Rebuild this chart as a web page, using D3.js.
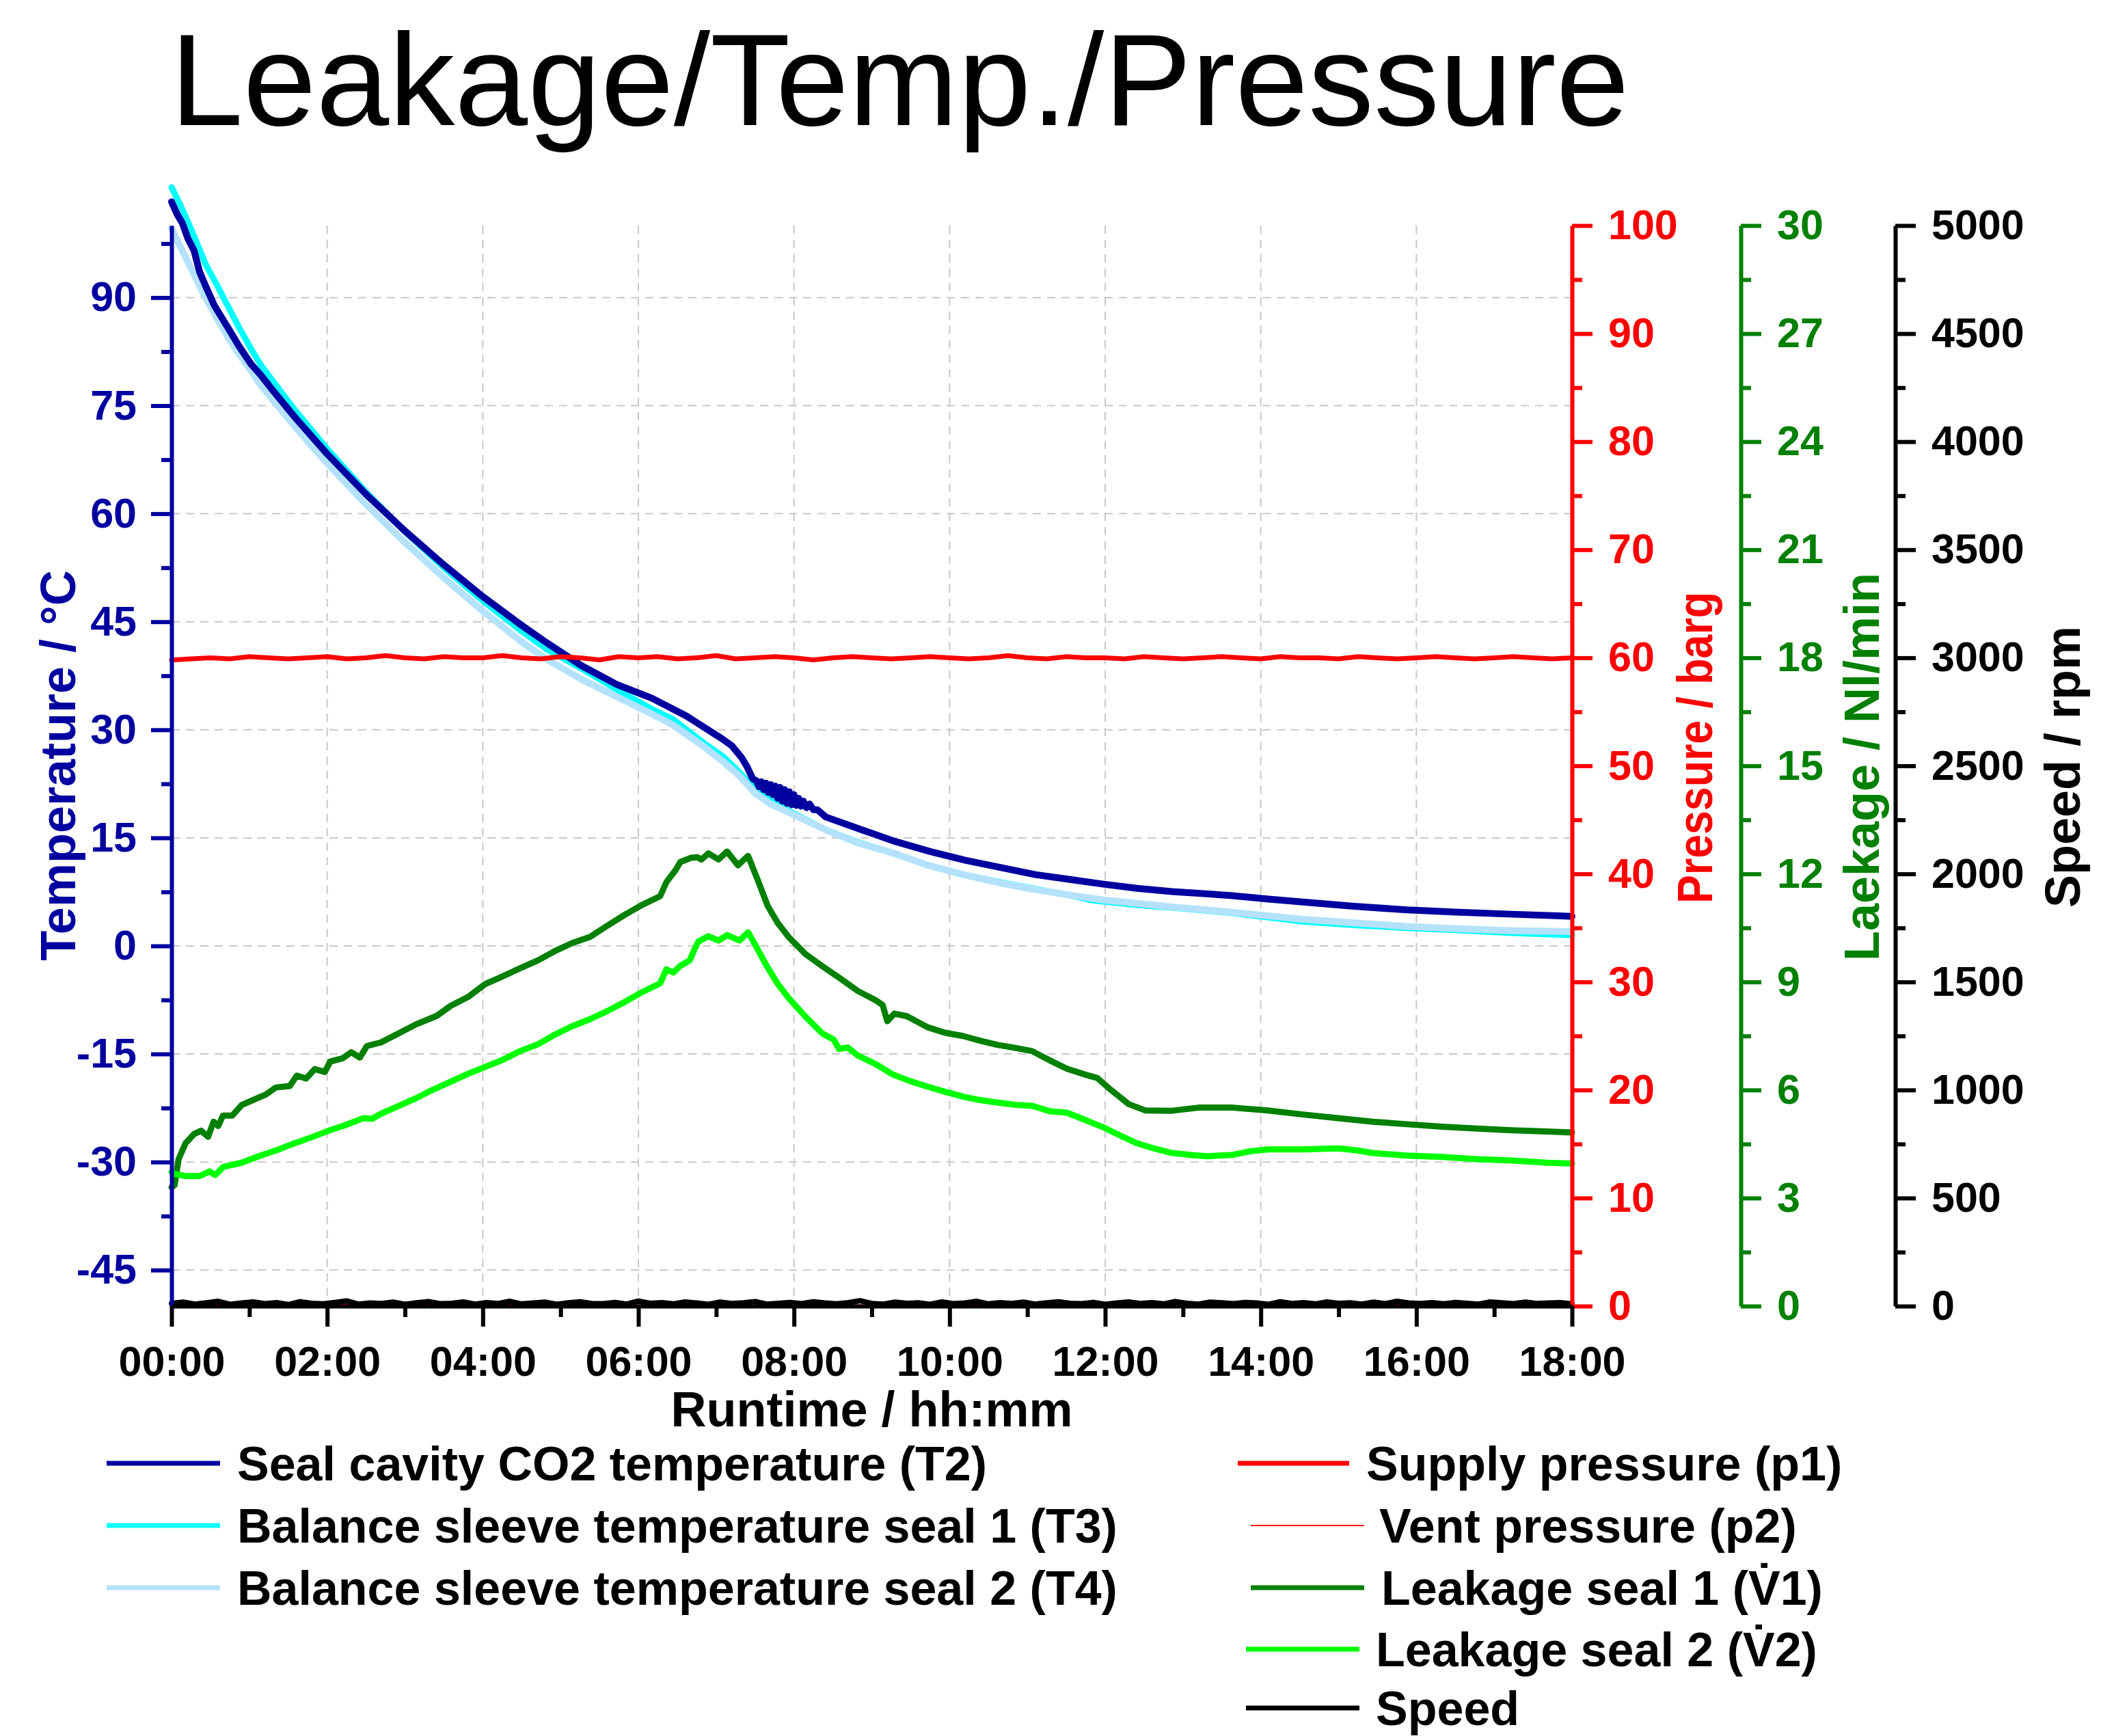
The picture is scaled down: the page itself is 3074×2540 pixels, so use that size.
<!DOCTYPE html>
<html>
<head>
<meta charset="utf-8">
<script src="https://cdn.jsdelivr.net/npm/d3@7"></script>
<style>
  html, body { margin: 0; padding: 0; background: #fff; }
  svg { display: block; }
</style>
</head>
<body>
<svg id="chart" width="3074" height="2540"></svg>
<script>
// ---------- data (runtime in hours) ----------
const t2Time = [0,0.07,0.14,0.21,0.29,0.36,0.43,0.55,0.72,0.87,1.02,1.15,1.31,1.6,2.0,2.5,3.0,3.5,4.0,4.5,4.82,5.27,5.72,6.17,6.62,7.07,7.2,7.33,7.4,7.47,
  7.52,7.55,7.58,7.61,7.64,7.67,7.70,7.73,7.76,7.79,7.82,7.85,7.88,7.91,7.94,7.97,8.00,8.03,8.06,8.09,8.12,8.16,8.20,8.25,8.30,
  8.41,8.85,9.3,9.75,10.2,10.65,11.1,11.5,11.96,12.41,12.86,13.2,13.61,14.1,14.54,15.2,15.88,16.5,17.23,18];
const t2Temp = [103.3,101.6,100.3,98.2,96.5,93.6,91.8,88.9,85.9,83.2,80.8,79.2,77.0,73.2,68.3,62.7,57.6,52.9,48.5,44.5,42.1,38.9,36.3,34.4,31.9,28.8,27.8,26.1,24.8,23.2,
  22.9,22.1,22.8,21.7,22.6,21.3,22.4,21.0,22.2,20.5,22.0,20.1,21.7,19.8,21.4,19.6,21.0,19.5,20.5,19.4,20.1,19.2,19.7,18.9,18.9,
  17.9,16.2,14.5,13.1,11.9,10.9,9.9,9.3,8.6,8.0,7.55,7.3,7.0,6.5,6.1,5.5,5.0,4.7,4.4,4.1];

const t3Time = [0,0.07,0.14,0.29,0.43,0.58,0.72,0.87,1.02,1.15,1.31,1.6,2.0,2.5,3.0,3.5,4.0,4.5,4.82,5.27,5.72,6.17,6.44,6.85,7.1,7.29,7.4,7.51,7.7,7.96,8.41,8.82,9.3,9.72,10.17,10.62,11.06,11.51,11.85,12.41,12.86,13.2,13.61,14.54,15.2,15.88,16.5,17.23,18];
const t3Temp = [105.3,103.8,102.2,98.5,94.8,91.8,88.9,85.8,82.9,80.6,78.3,74.2,69.0,63.0,57.5,52.5,47.9,43.7,41.2,38.5,35.6,32.9,31.5,28.1,26.2,24.2,22.9,21.8,20.2,18.6,16.1,14.4,12.8,11.2,9.9,8.9,8.0,7.1,6.3,5.7,5.3,5.0,4.6,3.4,2.9,2.5,2.2,1.8,1.5];

const t4Time = [0,0.07,0.14,0.29,0.43,0.58,0.72,0.87,1.02,1.15,1.31,1.6,2.0,2.5,3.0,3.5,4.0,4.5,4.82,5.27,5.72,6.17,6.44,6.85,7.1,7.29,7.4,7.51,7.7,7.96,8.41,8.82,9.3,9.72,10.17,10.62,11.06,11.51,11.96,12.41,12.86,13.2,13.61,14.54,15.2,15.88,16.5,17.23,18];
const t4Temp = [99.6,98.0,96.5,93.2,90.1,87.2,84.6,82.1,79.9,77.8,75.7,71.9,67.0,61.3,56.0,51.1,46.5,42.2,39.8,37.0,34.6,32.2,30.7,27.6,25.5,23.7,22.4,21.1,19.7,18.4,16.1,14.3,12.8,11.2,9.9,8.8,7.9,7.1,6.4,5.9,5.4,5.1,4.7,3.7,3.2,2.7,2.4,2.1,2.0];

const v1Time = [0,0.04,0.09,0.18,0.29,0.38,0.47,0.54,0.6,0.66,0.78,0.9,1.08,1.21,1.34,1.52,1.61,1.73,1.84,1.97,2.04,2.2,2.31,2.42,2.51,2.69,2.91,3.14,3.41,3.59,3.81,4.03,4.26,4.48,4.71,4.93,5.15,5.38,5.6,5.83,6.05,6.28,6.36,6.48,6.54,6.68,6.76,6.81,6.9,7.03,7.14,7.28,7.41,7.54,7.66,7.79,7.93,8.15,8.37,8.6,8.82,9.05,9.14,9.2,9.29,9.45,9.72,9.94,10.17,10.39,10.62,10.84,11.06,11.29,11.51,11.74,11.9,12.07,12.3,12.52,12.84,13.2,13.64,14.09,14.54,14.99,15.44,15.88,16.33,16.78,17.23,17.68,18];
const v1Flow = [3.3,3.36,4.08,4.52,4.78,4.87,4.7,5.12,5.0,5.29,5.29,5.58,5.75,5.87,6.07,6.11,6.4,6.32,6.58,6.5,6.79,6.88,7.05,6.9,7.22,7.32,7.56,7.82,8.06,8.34,8.58,8.94,9.16,9.38,9.6,9.86,10.08,10.25,10.56,10.87,11.14,11.38,11.77,12.11,12.33,12.45,12.46,12.4,12.57,12.4,12.62,12.24,12.5,11.8,11.12,10.64,10.25,9.77,9.43,9.09,8.75,8.49,8.36,7.91,8.12,8.05,7.74,7.59,7.5,7.37,7.25,7.17,7.08,6.82,6.59,6.43,6.33,6.01,5.61,5.43,5.42,5.51,5.51,5.43,5.32,5.22,5.12,5.05,4.98,4.93,4.88,4.85,4.82];

const v2Time = [0,0.04,0.18,0.36,0.49,0.56,0.67,0.9,1.12,1.34,1.57,1.79,2.02,2.24,2.47,2.58,2.69,2.91,3.14,3.36,3.59,3.81,4.03,4.26,4.48,4.71,4.93,5.15,5.38,5.6,5.83,6.05,6.28,6.36,6.45,6.54,6.66,6.72,6.77,6.9,7.03,7.14,7.3,7.41,7.52,7.64,7.79,7.93,8.15,8.37,8.51,8.58,8.69,8.82,9.05,9.27,9.5,9.72,9.94,10.17,10.39,10.62,10.84,11.06,11.29,11.51,11.74,11.96,12.19,12.41,12.64,12.86,13.09,13.31,13.64,13.87,14.09,14.54,14.99,15.21,15.44,15.88,16.33,16.78,17.23,17.68,18];
const v2Flow = [3.72,3.67,3.61,3.61,3.74,3.64,3.87,3.98,4.16,4.32,4.51,4.68,4.87,5.03,5.22,5.2,5.34,5.55,5.77,6.01,6.23,6.45,6.64,6.84,7.08,7.27,7.54,7.77,7.97,8.19,8.45,8.72,8.96,9.35,9.26,9.45,9.6,9.9,10.12,10.27,10.15,10.3,10.15,10.38,9.96,9.48,8.95,8.56,8.03,7.56,7.4,7.14,7.18,6.96,6.72,6.43,6.24,6.09,5.95,5.82,5.72,5.65,5.59,5.56,5.41,5.37,5.17,4.98,4.74,4.52,4.37,4.25,4.2,4.16,4.2,4.3,4.35,4.35,4.38,4.33,4.25,4.18,4.14,4.08,4.04,3.98,3.96];

// supply pressure p1, sampled every 15 min
const p1Barg = [59.8,59.9,60.0,59.9,60.1,60.0,59.9,60.0,60.1,59.9,60.0,60.2,60.0,59.9,60.1,60.0,60.0,60.2,60.0,59.9,60.1,60.0,59.8,60.1,60.0,60.1,59.9,60.0,60.2,59.9,60.0,60.1,60.0,59.8,60.0,60.1,60.0,59.9,60.0,60.1,60.0,59.9,60.0,60.2,60.0,59.9,60.1,60.0,60.0,59.9,60.1,60.0,59.9,60.0,60.1,60.0,59.9,60.1,60.0,60.0,59.9,60.1,60.0,59.9,60.0,60.1,60.0,59.9,60.0,60.1,60.0,59.9,60.0];
// vent pressure p2, sampled every 30 min
const p2Barg = [0.1,0.2,0.1,0.1,0.2,0.1,0.2,0.1,0.1,0.2,0.1,0.2,0.1,0.1,0.2,0.1,0.2,0.1,0.1,0.2,0.1,0.2,0.1,0.1,0.2,0.1,0.2,0.1,0.1,0.2,0.1,0.2,0.1,0.1,0.2,0.1,0.1];
// shaft speed, sampled every 9 min
const speedRpm = [12,18,9,15,22,8,14,19,11,16,7,20,13,10,17,24,9,14,12,18,8,15,21,11,13,19,9,16,12,22,10,14,18,8,15,20,12,11,17,9,23,13,16,10,19,14,8,18,12,15,21,9,13,17,11,20,14,10,16,25,12,9,18,13,15,8,19,11,14,22,10,16,12,18,9,15,20,13,11,17,8,14,19,12,16,10,21,13,9,18,15,11,17,14,8,20,12,16,10,19,13,15,9,18,11,22,14,12,16,10,17,13,9,19,15,11,18,12,14,16,10];

// ---------- axis ticks ----------
const timeTicks = [0,2,4,6,8,10,12,14,16,18];
const timeLabels = ["00:00","02:00","04:00","06:00","08:00","10:00","12:00","14:00","16:00","18:00"];
const timeMinor = [1,3,5,7,9,11,13,15,17];
const tempTicks = [-45,-30,-15,0,15,30,45,60,75,90];
const tempMinor = [-37.5,-22.5,-7.5,7.5,22.5,37.5,52.5,67.5,82.5,97.5];
const presTicks = [0,10,20,30,40,50,60,70,80,90,100];
const presMinor = [5,15,25,35,45,55,65,75,85,95];
const leakTicks = [0,3,6,9,12,15,18,21,24,27,30];
const leakMinor = [1.5,4.5,7.5,10.5,13.5,16.5,19.5,22.5,25.5,28.5];
const speedTicks = [0,500,1000,1500,2000,2500,3000,3500,4000,4500,5000];
const speedMinor = [250,750,1250,1750,2250,2750,3250,3750,4250,4750];

// ---------- layout ----------
const FONT = "'Liberation Sans', Arial, sans-serif";
const plotL = 251, plotR = 2300, plotT = 330, plotB = 1911;
const navy = "#0000A0", green = "#008000";

const svg = d3.select("#chart");
svg.append("rect").attr("width", 3074).attr("height", 2540).attr("fill", "#fff");

const x = d3.scaleLinear().domain([0, 18]).range([plotL, plotR]);
const yTemp = d3.scaleLinear().domain([-50, 100]).range([plotB, plotT]);
const yPres = d3.scaleLinear().domain([0, 100]).range([plotB, plotT]);
const yLeak = d3.scaleLinear().domain([0, 30]).range([plotB, plotT]);
const ySpeed = d3.scaleLinear().domain([0, 5000]).range([plotB, plotT]);

// title
svg.append("text").attr("x", 249).attr("y", 183)
  .attr("font-family", FONT).attr("font-size", 192).attr("fill", "#000")
  .text("Leakage/Temp./Pressure");

// grid
const grid = svg.append("g").attr("stroke", "#c8c8c8").attr("stroke-width", 2).attr("stroke-dasharray", "12,9");
grid.selectAll(".gh").data(tempTicks).join("line")
  .attr("x1", plotL).attr("x2", plotR).attr("y1", d => yTemp(d)).attr("y2", d => yTemp(d));
grid.selectAll(".gv").data(timeTicks.slice(1, -1)).join("line")
  .attr("y1", plotT).attr("y2", plotB).attr("x1", d => x(d)).attr("x2", d => x(d));

// series
function series(times, values, yScale, color, width) {
  const pts = times.map((t, i) => [t, values[i]]);
  svg.append("path").datum(pts)
    .attr("fill", "none").attr("stroke", color).attr("stroke-width", width)
    .attr("stroke-linejoin", "round").attr("stroke-linecap", "round")
    .attr("d", d3.line().x(d => x(d[0])).y(d => yScale(d[1])));
}
const uniformTimes = arr => arr.map((d, i) => i * 18 / (arr.length - 1));

series(t3Time, t3Temp, yTemp, "#00FFFF", 9);
series(t4Time, t4Temp, yTemp, "#B4E2FC", 10);
series(t2Time, t2Temp, yTemp, navy, 10);
series(uniformTimes(p1Barg), p1Barg, yPres, "#FF0000", 7);
series(v1Time, v1Flow, yLeak, green, 9);
series(v2Time, v2Flow, yLeak, "#00FF00", 9);
series(uniformTimes(p2Barg), p2Barg, yPres, "#FF0000", 2);
series(uniformTimes(speedRpm), speedRpm, ySpeed, "#000", 8);

// axes
function styleAxis(g, color) {
  g.selectAll("path.domain").attr("stroke", color).attr("stroke-width", 6);
  g.selectAll(".tick line").attr("stroke", color).attr("stroke-width", 6);
  g.selectAll(".tick text").attr("fill", color)
    .attr("font-family", FONT).attr("font-size", 61).attr("font-weight", "bold");
}
function vAxis(pos, gen, scale, major, minor, color, fmt) {
  const gMinor = svg.append("g").attr("transform", `translate(${pos},0)`)
    .call(gen(scale).tickValues(minor).tickSize(15).tickSizeOuter(0).tickFormat(""));
  gMinor.select("path.domain").remove();
  styleAxis(gMinor, color);
  const g = svg.append("g").attr("transform", `translate(${pos},0)`)
    .call(gen(scale).tickValues(major).tickSize(30).tickSizeOuter(0)
      .tickPadding(gen === d3.axisLeft ? 21 : 23).tickFormat(fmt));
  styleAxis(g, color);
}
vAxis(plotL, d3.axisLeft, yTemp, tempTicks, tempMinor, navy, d => String(d));
vAxis(plotR, d3.axisRight, yPres, presTicks, presMinor, "#FF0000", d => String(d));
vAxis(2547, d3.axisRight, yLeak, leakTicks, leakMinor, green, d => String(d));
vAxis(2773, d3.axisRight, ySpeed, speedTicks, speedMinor, "#000", d => String(d));

const gxMinor = svg.append("g").attr("transform", `translate(0,${plotB})`)
  .call(d3.axisBottom(x).tickValues(timeMinor).tickSize(16).tickSizeOuter(0).tickFormat(""));
gxMinor.select("path.domain").remove();
styleAxis(gxMinor, "#000");
const gx = svg.append("g").attr("transform", `translate(0,${plotB})`)
  .call(d3.axisBottom(x).tickValues(timeTicks).tickSize(30).tickSizeOuter(0).tickPadding(29)
    .tickFormat((d, i) => timeLabels[i]));
styleAxis(gx, "#000");

// axis titles (squeeze < 1 narrows the text along its reading direction)
function title(txt, px, py, color, rotate, squeeze = 1) {
  svg.append("text")
    .attr("transform", `translate(${px},${py})` + (rotate ? " rotate(-90)" : "") + ` scale(${squeeze},1)`)
    .attr("text-anchor", "middle").attr("fill", color)
    .attr("font-family", FONT).attr("font-size", 72).attr("font-weight", "bold")
    .text(txt);
}
title("Runtime / hh:mm", (plotL + plotR) / 2, 2087, "#000", false);
title("Temperature / °C", 110, 1120, navy, true);
title("Pressure / barg", 2505, 1094, "#FF0000", true, 0.87);
title("Laekage / Nl/min", 2749, 1122, green, true);
title("Speed / rpm", 3043, 1122, "#000", true);

// legend
const legendItems = [
  { label: "Seal cavity CO2 temperature (T2)", color: navy, w: 7, x1: 156, x2: 322, tx: 347, y: 2141 },
  { label: "Balance sleeve temperature seal 1 (T3)", color: "#00FFFF", w: 7, x1: 156, x2: 322, tx: 347, y: 2232 },
  { label: "Balance sleeve temperature seal 2 (T4)", color: "#B4E2FC", w: 7, x1: 156, x2: 322, tx: 347, y: 2323 },
  { label: "Supply pressure (p1)", color: "#FF0000", w: 7, x1: 1811, x2: 1974, tx: 1999, y: 2141 },
  { label: "Vent pressure (p2)", color: "#FF0000", w: 2, x1: 1830, x2: 1996, tx: 2018, y: 2232 },
  { label: "Leakage seal 1 (V\u03071)", color: green, w: 7, x1: 1830, x2: 1996, tx: 2021, y: 2323 },
  { label: "Leakage seal 2 (V\u03072)", color: "#00FF00", w: 7, x1: 1823, x2: 1989, tx: 2013, y: 2413 },
  { label: "Speed", color: "#000", w: 7, x1: 1823, x2: 1989, tx: 2013, y: 2499 }
];
const lg = svg.append("g");
legendItems.forEach(it => {
  lg.append("line").attr("x1", it.x1).attr("x2", it.x2).attr("y1", it.y).attr("y2", it.y)
    .attr("stroke", it.color).attr("stroke-width", it.w);
  lg.append("text").attr("x", it.tx).attr("y", it.y + 25)
    .attr("font-family", FONT).attr("font-size", 70).attr("font-weight", "bold").attr("fill", "#000")
    .text(it.label);
});
</script>
</body>
</html>
